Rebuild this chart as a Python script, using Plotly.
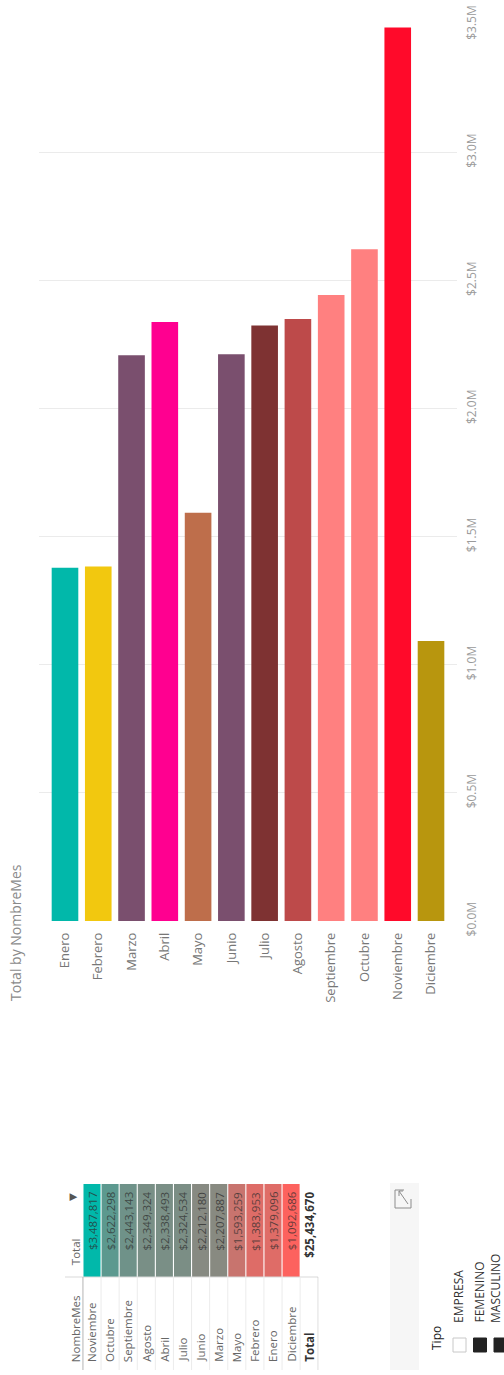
import plotly.graph_objects as go

W, H = 504, 1375
FONT = "Open Sans"

# ---- data -------------------------------------------------------------
meses = ["Enero", "Febrero", "Marzo", "Abril", "Mayo", "Junio", "Julio",
         "Agosto", "Septiembre", "Octubre", "Noviembre", "Diciembre"]
totales = [1379096, 1383953, 2207887, 2338493, 1593259, 2212180, 2324534,
           2349324, 2443143, 2622298, 3487817, 1092686]
colores_mes = ["#01B8AA", "#F2C80F", "#7A4F6E", "#FF0090", "#BE6E4B", "#7A4F6E",
               "#7E3232", "#BD4A4A", "#FF8080", "#FF8080", "#FF0A2A", "#B8960E"]

eje_valores = [0, 500000, 1000000, 1500000, 2000000, 2500000, 3000000, 3500000]
eje_textos = ["$0.0M", "$0.5M", "$1.0M", "$1.5M", "$2.0M", "$2.5M", "$3.0M", "$3.5M"]

tipo_items = ["EMPRESA", "FEMENINO", "MASCULINO"]
tipo_marcado = [False, True, True]


# ---- helpers ----------------------------------------------------------
def px(x):
    return x / W


def py(y):
    return 1 - y / H


def mezcla(c_bajo, c_alto, t):
    r = [round(a + (b - a) * t) for a, b in zip(c_bajo, c_alto)]
    return "rgb({},{},{})".format(*r)


# ---- table rows sorted by total --------------------------------------
filas = sorted(zip(meses, totales), key=lambda r: r[1], reverse=True)
tabla_meses = [f[0] for f in filas]
tabla_totales = [f[1] for f in filas]
vmin, vmax = min(tabla_totales), max(tabla_totales)
color_bajo, color_alto = (253, 98, 94), (1, 184, 170)
tabla_colores = [mezcla(color_bajo, color_alto, (v - vmin) / (vmax - vmin)) for v in tabla_totales]

fig = go.Figure()

# ---- column chart: Total by NombreMes --------------------------------
fig.add_trace(go.Bar(
    x=meses, y=totales, marker=dict(color=colores_mes, line=dict(width=0)),
    xaxis="x", yaxis="y", hoverinfo="x+y", showlegend=False,
))

# ---- matrix cells (rotated table) ------------------------------------
fig.add_trace(go.Bar(
    x=list(range(len(tabla_totales))), y=[1] * len(tabla_totales), base=0,
    width=0.94, marker=dict(color=tabla_colores, line=dict(width=0)),
    xaxis="x2", yaxis="y2", hoverinfo="skip", showlegend=False,
))

anns = []
shapes = []

# chart title
anns.append(dict(x=px(15), y=py(933), xref="paper", yref="paper",
                 text="Total by NombreMes", textangle=-90, showarrow=False,
                 font=dict(family=FONT, size=14, color="#8a8a8a"),
                 xanchor="center", yanchor="middle"))

# table cell text
for i, (m, v) in enumerate(zip(tabla_meses, tabla_totales)):
    anns.append(dict(x=i, y=0.06, xref="x2", yref="y2", text=f"${v:,}",
                     textangle=-90, showarrow=False, xanchor="center", yanchor="top",
                     font=dict(family=FONT, size=11.5, color="rgba(45,45,45,0.75)")))
    anns.append(dict(x=i, y=1.935, xref="x2", yref="y2", text=m,
                     textangle=-90, showarrow=False, xanchor="center", yanchor="bottom",
                     font=dict(family=FONT, size=11.5, color="#666666")))

# header column
anns.append(dict(x=-0.9, y=1.935, xref="x2", yref="y2", text="NombreMes",
                 textangle=-90, showarrow=False, xanchor="center", yanchor="bottom",
                 font=dict(family=FONT, size=11.5, color="#666666")))
anns.append(dict(x=-0.9, y=0.892, xref="x2", yref="y2", text="Total",
                 textangle=-90, showarrow=False, xanchor="center", yanchor="bottom",
                 font=dict(family=FONT, size=11.5, color="#666666")))
anns.append(dict(x=-1.1, y=0.14, xref="x2", yref="y2", text="▼",
                 textangle=-90, showarrow=False, xanchor="center", yanchor="middle",
                 font=dict(family="DejaVu Sans", size=10, color="#555555")))

# total column
anns.append(dict(x=12, y=1.935, xref="x2", yref="y2", text="<b>Total</b>",
                 textangle=-90, showarrow=False, xanchor="center", yanchor="bottom",
                 font=dict(family=FONT, size=11.5, color="#333333")))
anns.append(dict(x=12, y=0.06, xref="x2", yref="y2", text=f"<b>${sum(totales):,}</b>",
                 textangle=-90, showarrow=False, xanchor="center", yanchor="top",
                 font=dict(family=FONT, size=11.5, color="#333333")))

# table rules
shapes.append(dict(type="line", xref="x2", yref="y2", x0=-1.5, x1=12.5, y0=1, y1=1,
                   line=dict(color="#d9d9d9", width=1)))
for k in range(-1, len(tabla_totales) + 1):
    if k == -1 or k == len(tabla_totales):
        col = "#b5b5b5"
    else:
        col = "#ececec"
    shapes.append(dict(type="line", xref="x2", yref="y2", x0=k + 0.5, x1=k + 0.5,
                       y0=1, y1=2, line=dict(color=col, width=1)))

# slicer panel and focus icon
shapes.append(dict(type="rect", xref="paper", yref="paper", x0=px(390), x1=px(419),
                   y0=py(1370), y1=py(1183), fillcolor="#f6f6f6", line=dict(width=0), layer="below"))
shapes.append(dict(type="path", xref="paper", yref="paper",
                   path=(f"M {px(404)},{py(1190)} L {px(395)},{py(1190)} L {px(395)},{py(1208)} "
                         f"L {px(411)},{py(1208)} L {px(411)},{py(1199)}"),
                   line=dict(color="#8c8c8c", width=1)))
shapes.append(dict(type="path", xref="paper", yref="paper",
                   path=(f"M {px(399)},{py(1191)} L {px(408)},{py(1204)} "
                         f"M {px(399)},{py(1191)} L {px(399)},{py(1196)} "
                         f"M {px(399)},{py(1191)} L {px(403)},{py(1191)}"),
                   line=dict(color="#8c8c8c", width=1)))

# slicer "Tipo"
anns.append(dict(x=px(436), y=py(1352), xref="paper", yref="paper", text="Tipo",
                 textangle=-90, showarrow=False, xanchor="center", yanchor="bottom",
                 font=dict(family=FONT, size=12, color="#222222")))
for j, (item, marcado) in enumerate(zip(tipo_items, tipo_marcado)):
    cx = 459.5 + j * 20.5
    shapes.append(dict(type="rect", xref="paper", yref="paper",
                       x0=px(cx - 6.5), x1=px(cx + 6.5), y0=py(1352), y1=py(1338),
                       fillcolor="#222222" if marcado else "#ffffff",
                       line=dict(color="#222222" if marcado else "#c8c8c8", width=1)))
    anns.append(dict(x=px(min(cx - 1, 495.5)), y=py(1325), xref="paper", yref="paper", text=item,
                     textangle=-90, showarrow=False, xanchor="center", yanchor="bottom",
                     font=dict(family=FONT, size=12, color="#333333")))

fig.update_layout(
    width=W, height=H, margin=dict(l=0, r=0, t=0, b=0),
    paper_bgcolor="#ffffff", plot_bgcolor="rgba(0,0,0,0)",
    bargap=0.2, showlegend=False,
    font=dict(family=FONT, color="#777777"),
    xaxis=dict(domain=[px(39), px(457)], range=[-0.781, 11.781], anchor="y",
               tickangle=-90, showgrid=False, zeroline=False, showline=False,
               ticks="", ticklabelstandoff=8, automargin=False,
               tickfont=dict(family=FONT, size=13, color="#777777")),
    yaxis=dict(domain=[py(921), py(24.3)], range=[0, 3500000], anchor="x", side="right",
               tickvals=eje_valores, ticktext=eje_textos, tickangle=-90,
               showgrid=True, gridcolor="#ebebeb", gridwidth=1, zeroline=False,
               showline=False, ticks="", ticklabelstandoff=6, automargin=False,
               tickfont=dict(family=FONT, size=12, color="#9a9a9a")),
    xaxis2=dict(domain=[px(92 - 1.5 * 18.1), px(92 + 12.5 * 18.1)], range=[-1.5, 12.5],
                anchor="y2", visible=False),
    yaxis2=dict(domain=[py(1370), py(1184)], range=[2, 0], anchor="x2", visible=False),
    annotations=anns, shapes=shapes,
)

fig.write_html("out.html")
